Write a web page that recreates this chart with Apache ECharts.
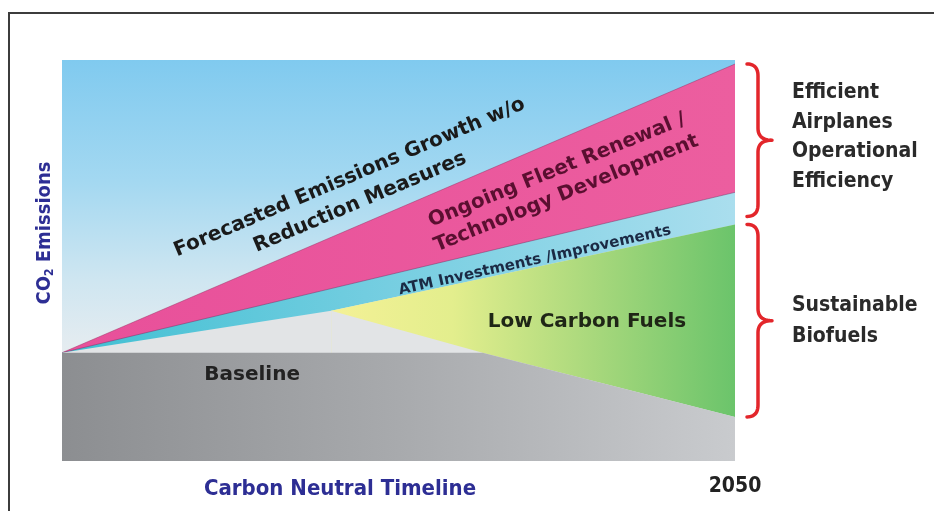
<!DOCTYPE html>
<html>
<head>
<meta charset="utf-8">
<script src="https://cdn.jsdelivr.net/npm/echarts@6/dist/echarts.min.js"></script>
<style>
  html, body { margin: 0; padding: 0; background: #ffffff; }
  #chart { width: 934px; height: 511px; }
</style>
</head>
<body>
<div id="chart"></div>
<script>
// Timeline break points (years) and the upper edge of each wedge, in relative CO2 units
const years = [2010, 2026, 2035, 2050];
const forecastGrowth = [27, 55.8, 72, 99];     // emissions growth without reduction measures
const fleetRenewal = [27, 43, 52, 67];         // after fleet renewal / technology
const atmImprovements = [27, 37.5, 45.5, 59];  // after ATM investments
const lowCarbonFuels = [null, 37.5, 27, 11];   // after low carbon fuels
const baseline = [27, 27, 27, 11];             // carbon neutral growth line
const skyCeiling = [100, 100, 100, 100];
const xTickYears = [2050];

const CONDENSED = "'Liberation Sans Narrow','DejaVu Sans Condensed','Roboto Condensed','Arial Narrow',sans-serif";
const WIDE = "'DejaVu Sans',Verdana,sans-serif";

function pairs(ys) {
  const out = [];
  years.forEach((x, i) => { if (ys[i] !== null) out.push([x, ys[i]]); });
  return out;
}
// green wedge follows the ATM line only where the fuels wedge exists
const fuelsTop = years.map((x, i) => lowCarbonFuels[i] === null ? null : atmImprovements[i]);

function lin(x2, y2, stops) {
  return new echarts.graphic.LinearGradient(0, 0, x2, y2,
    stops.map(s => ({ offset: s[0], color: s[1] })));
}

function area(name, data, color, z, line) {
  return {
    name, type: 'line', data, z,
    symbol: 'none', silent: true,
    lineStyle: line || { width: 0 },
    areaStyle: { color, opacity: 1 }
  };
}

const chart = echarts.init(document.getElementById('chart'), null, { renderer: 'canvas' });

chart.setOption({
  animation: false,
  backgroundColor: '#ffffff',
  grid: { left: 62, right: 199, top: 60, bottom: 50 },
  xAxis: {
    type: 'value', min: 2010, max: 2050,
    axisLine: { show: false }, axisTick: { show: false }, splitLine: { show: false },
    axisLabel: {
      customValues: xTickYears,
      formatter: v => String(v),
      margin: 15,
      fontFamily: CONDENSED, fontWeight: 'bold', fontSize: 21, color: '#222222'
    }
  },
  yAxis: {
    type: 'value', min: 0, max: 100,
    axisLine: { show: false }, axisTick: { show: false }, splitLine: { show: false },
    axisLabel: { show: false }
  },
  series: [
    area('Sky', pairs(skyCeiling), lin(0, 1, [[0, '#80caef'], [0.3, '#a3d8f1'], [0.55, '#cfe6f1'], [0.72, '#e5ecf0'], [1, '#e5ecf0']]), 1),
    area('Forecasted Emissions Growth', pairs(forecastGrowth), lin(1, 0, [[0, '#e8509a'], [1, '#ec5e9f']]), 2,
      { width: 1, color: 'rgba(150,40,90,0.45)' }),
    area('Ongoing Fleet Renewal', pairs(fleetRenewal), lin(1, 0, [[0, '#3fbfd2'], [0.45, '#72cde0'], [1, '#aadeee']]), 3,
      { width: 1, color: 'rgba(120,40,90,0.45)' }),
    area('ATM gap', pairs(atmImprovements), '#e2e4e6', 4),
    area('Low Carbon Fuels', pairs(fuelsTop), lin(1, 0, [[0, '#f4f196'], [0.3, '#e3ee8d'], [0.65, '#a8d87c'], [1, '#6bc46b']]), 5),
    area('Fuels gap', pairs(lowCarbonFuels), '#e2e4e6', 6),
    area('Baseline', pairs(baseline), lin(1, 0, [[0, '#8c8e91'], [0.5, '#a8aaad'], [1, '#c9cbce']]), 7)
  ]
});

// ---- annotations placed from data coordinates ----
const px = (x, y) => chart.convertToPixel({ gridIndex: 0 }, [x, y]);
const deg = d => d * Math.PI / 180;

// sample a quadratic Bezier segment into points
function quad(p0, p1, p2, n, out) {
  for (let i = 0; i <= n; i++) {
    const t = i / n, u = 1 - t;
    out.push([u * u * p0[0] + 2 * u * t * p1[0] + t * t * p2[0],
              u * u * p0[1] + 2 * u * t * p1[1] + t * t * p2[1]]);
  }
}
// curly brace opening to the left, tip pointing right
function bracePoints(x, yt, yb) {
  const s = 11, w = 25, c = 12, ym = (yt + yb) / 2;
  const pts = [];
  quad([x, yt], [x + s, yt], [x + s, yt + c], 12, pts);
  quad([x + s, ym - c], [x + s, ym], [x + w, ym], 12, pts);
  quad([x + w, ym], [x + s, ym], [x + s, ym + c], 12, pts);
  quad([x + s, yb - c], [x + s, yb], [x, yb], 12, pts);
  return pts;
}

const bandLabels = [
  { text: 'Forecasted Emissions Growth w/o\nReduction Measures', at: [2027.4, 67.6], rot: 23, size: 20, color: '#1a1a1a', lh: 27 },
  { text: 'Ongoing Fleet Renewal /\nTechnology Development', at: [2039.7, 69.6], rot: 22, size: 20, color: '#5a0f30', lh: 25 },
  { text: 'ATM Investments /Improvements', at: [2038.1, 50], rot: 12.5, size: 15, color: '#1b2a44', lh: 18 },
  { text: 'Low Carbon Fuels', at: [2041.2, 34.6], rot: 0, size: 20, color: '#1f2616', lh: 22 },
  { text: 'Baseline', at: [2021.3, 21.4], rot: 0, size: 20, color: '#222222', lh: 22 }
];

const graphics = [];
bandLabels.forEach(l => {
  const p = px(l.at[0], l.at[1]);
  graphics.push({
    type: 'text', x: p[0], y: p[1], rotation: deg(l.rot), z: 50,
    style: {
      text: l.text, x: 0, y: 0, align: 'center', verticalAlign: 'middle',
      font: `bold ${l.size}px ${WIDE}`, lineHeight: l.lh, fill: l.color
    }
  });
});

// braces grouping the wedges at 2050
const right = px(2050, 0)[0];
const b1t = px(2050, 99)[1], b1b = px(2050, 61)[1];
const b2t = px(2050, 59)[1], b2b = px(2050, 11)[1];
[[b1t, b1b], [b2t, b2b]].forEach(([t, b]) => {
  graphics.push({
    type: 'polyline', z: 50,
    shape: { points: bracePoints(right + 12, t, b) },
    style: { fill: null, stroke: '#e3262b', lineWidth: 3.5, lineCap: 'round', lineJoin: 'round' }
  });
});

graphics.push({
  type: 'text', x: right + 57, y: (b1t + b1b) / 2 - 3, z: 50,
  style: { text: 'Efficient\nAirplanes\nOperational\nEfficiency', align: 'left', verticalAlign: 'middle',
           font: `bold 21px ${CONDENSED}`, lineHeight: 29.5, fill: '#2a2a2a' }
});
graphics.push({
  type: 'text', x: right + 57, y: (b2t + b2b) / 2, z: 50,
  style: { text: 'Sustainable\nBiofuels', align: 'left', verticalAlign: 'middle',
           font: `bold 21px ${CONDENSED}`, lineHeight: 31, fill: '#2a2a2a' }
});

// axis titles
graphics.push({
  type: 'text', x: 340, y: 489, z: 50,
  style: { text: 'Carbon Neutral Timeline', align: 'center', verticalAlign: 'middle',
           font: `bold 22px ${CONDENSED}`, fill: '#2d2e94' }
});
graphics.push({
  type: 'text', x: 45, y: 233, rotation: deg(90), z: 50,
  style: {
    text: '{a|CO}{s|2}{a| Emissions}', align: 'center', verticalAlign: 'middle',
    rich: {
      a: { font: `bold 20px ${CONDENSED}`, fill: '#2d2e94' },
      s: { font: `bold 12px ${CONDENSED}`, fill: '#2d2e94', padding: [10, 0, 0, 0] }
    }
  }
});

// outer frame
graphics.push({
  type: 'rect', z: 60, silent: true,
  shape: { x: 9, y: 13, width: 1000, height: 600 },
  style: { fill: null, stroke: '#3c3c3c', lineWidth: 2 }
});

chart.setOption({ graphic: graphics });
</script>
</body>
</html>
